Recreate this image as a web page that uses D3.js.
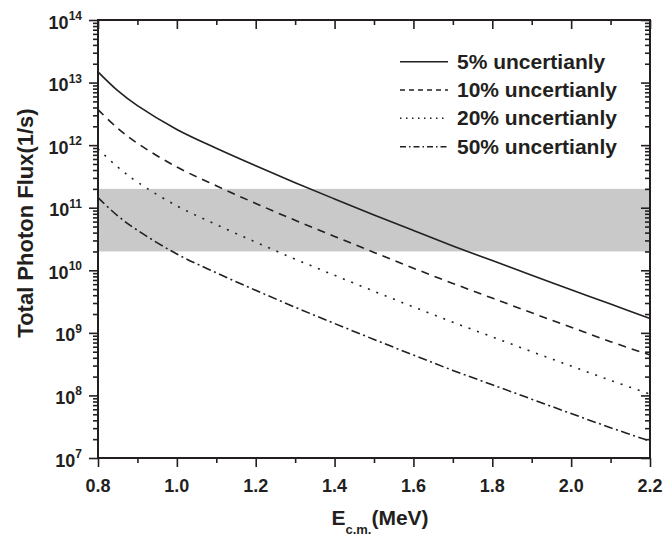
<!DOCTYPE html>
<html><head><meta charset="utf-8">
<script src="https://cdn.jsdelivr.net/npm/d3@7"></script>
<style>
body{margin:0;background:#fff}
svg{display:block}
text{font-family:"Liberation Sans",Arial,sans-serif;font-weight:bold;fill:#231f20}
</style>
</head><body>
<svg id="c" width="666" height="538"></svg>
<script>
// ---- data ----
const energy = [0.8, 0.85, 0.9, 1.0, 1.1, 1.2, 1.3, 1.4, 1.5, 1.6, 1.7, 1.8, 1.9, 2.0, 2.1, 2.2];
const flux5  = [1.48e13, 7.41e12, 4.27e12, 1.78e12, 8.91e11, 4.68e11, 2.51e11, 1.38e11, 7.67e10, 4.32e10, 2.45e10, 1.43e10, 8.32e9, 4.90e9, 2.88e9, 1.70e9];
const flux10 = [3.7e12, 1.86e12, 1.07e12, 4.47e11, 2.24e11, 1.17e11, 6.3e10, 3.47e10, 1.93e10, 1.08e10, 6.17e9, 3.59e9, 2.09e9, 1.23e9, 7.24e8, 4.42e8];
const flux20 = [8.7e11, 4.47e11, 2.57e11, 1.07e11, 5.37e10, 2.82e10, 1.51e10, 8.32e9, 4.62e9, 2.6e9, 1.48e9, 8.61e8, 5.01e8, 2.95e8, 1.74e8, 1.05e8];
const flux50 = [1.45e11, 7.41e10, 4.37e10, 1.82e10, 9.12e9, 4.79e9, 2.57e9, 1.41e9, 7.85e8, 4.42e8, 2.51e8, 1.48e8, 8.71e7, 5.13e7, 3.05e7, 1.86e7];
const seriesNames = ["5% uncertianly", "10% uncertianly", "20% uncertianly", "50% uncertianly"];
const bandRange = [2e10, 2e11];
const xTicks = [0.8, 1.0, 1.2, 1.4, 1.6, 1.8, 2.0, 2.2];
const xMinorTicks = [0.9, 1.1, 1.3, 1.5, 1.7, 1.9, 2.1];
const yExponents = [7, 8, 9, 10, 11, 12, 13, 14];
const xTitle = "E", xTitleSub = "c.m.", xTitleUnit = "(MeV)";
const yTitle = "Total Photon Flux(1/s)";

// ---- styles ----
const curveDash  = [null, "8,6", "2,7", "9,3.5,2,3.5"];
const legendDash = [null, "5,4", "1.5,4.5", "6,3,1.5,3"];
const ink = "#231f20";

const svg = d3.select("#c");
const L = 98, R = 650, T = 20, B = 458;
const x = d3.scaleLinear().domain([0.8, 2.2]).range([L, R]);
const y = d3.scaleLog().domain([1e7, 1e14]).range([B, T]);

// gray band
svg.append("rect")
  .attr("x", x(0.8)).attr("width", x(2.2) - x(0.8))
  .attr("y", y(bandRange[1])).attr("height", y(bandRange[0]) - y(bandRange[1]))
  .attr("fill", "#c9c9ca");

// curves
const allSeries = [flux5, flux10, flux20, flux50];
const line = d3.line().curve(d3.curveCatmullRom.alpha(0.5))
  .x((d, i) => x(energy[i])).y(d => y(d));
allSeries.forEach((s, k) => {
  svg.append("path").datum(s).attr("d", line)
    .attr("fill", "none").attr("stroke", ink).attr("stroke-width", 1.6)
    .attr("stroke-dasharray", curveDash[k]);
});

// y minor ticks
const yMinor = [];
for (let e = 7; e < 14; e++) for (let m = 2; m <= 9; m++) yMinor.push(m * Math.pow(10, e));
const yMajorVals = yExponents.map(e => Math.pow(10, e));

function styleAxis(g) {
  g.select(".domain").remove();
  g.selectAll("line").attr("stroke", ink).attr("stroke-width", 1.6);
}
// left axis (outward)
svg.append("g").attr("transform", `translate(${L},0)`)
  .call(d3.axisLeft(y).tickValues(yMajorVals).tickSize(9).tickFormat(""))
  .call(styleAxis);
svg.append("g").attr("transform", `translate(${L},0)`)
  .call(d3.axisLeft(y).tickValues(yMinor).tickSize(5).tickFormat(""))
  .call(styleAxis);
// right axis (pointing left / inward)
svg.append("g").attr("transform", `translate(${R},0)`)
  .call(d3.axisLeft(y).tickValues(yMajorVals).tickSize(9).tickFormat(""))
  .call(styleAxis);
svg.append("g").attr("transform", `translate(${R},0)`)
  .call(d3.axisLeft(y).tickValues(yMinor).tickSize(5).tickFormat(""))
  .call(styleAxis);
// bottom axis (outward)
svg.append("g").attr("transform", `translate(0,${B})`)
  .call(d3.axisBottom(x).tickValues(xTicks).tickSize(9).tickFormat(""))
  .call(styleAxis);
svg.append("g").attr("transform", `translate(0,${B})`)
  .call(d3.axisBottom(x).tickValues(xMinorTicks).tickSize(5).tickFormat(""))
  .call(styleAxis);
// top axis (pointing down / inward)
svg.append("g").attr("transform", `translate(0,${T})`)
  .call(d3.axisBottom(x).tickValues(xTicks).tickSize(9).tickFormat(""))
  .call(styleAxis);
svg.append("g").attr("transform", `translate(0,${T})`)
  .call(d3.axisBottom(x).tickValues(xMinorTicks).tickSize(5).tickFormat(""))
  .call(styleAxis);

// frame
svg.append("rect").attr("x", L).attr("y", T).attr("width", R - L).attr("height", B - T)
  .attr("fill", "none").attr("stroke", ink).attr("stroke-width", 2);

// x tick labels
svg.selectAll(".xl").data(xTicks).join("text")
  .attr("x", d => x(d)).attr("y", B + 34)
  .attr("text-anchor", "middle").attr("font-size", 18)
  .text(d => d.toFixed(1));

// y tick labels with superscripts
yExponents.forEach(e => {
  const t = svg.append("text").attr("x", 82).attr("y", y(Math.pow(10, e)) + 8.5)
    .attr("text-anchor", "end").attr("font-size", 18);
  t.append("tspan").text("10");
  t.append("tspan").attr("font-size", 12).attr("dy", -8.5).text(e);
});

// axis titles
const xt = svg.append("text").attr("x", 380).attr("y", 525)
  .attr("text-anchor", "middle").attr("font-size", 21);
xt.append("tspan").text(xTitle);
xt.append("tspan").attr("font-size", 13).attr("dy", 9).text(xTitleSub);
xt.append("tspan").attr("dy", -9).text(xTitleUnit);

svg.append("text").attr("transform", "translate(33,223) rotate(-90)")
  .attr("text-anchor", "middle").attr("font-size", 22).text(yTitle);

// legend
const legY = [61.7, 90, 118.3, 146.7];
seriesNames.forEach((n, k) => {
  svg.append("line").attr("x1", 400).attr("x2", 448).attr("y1", legY[k]).attr("y2", legY[k])
    .attr("stroke", ink).attr("stroke-width", 1.6).attr("stroke-dasharray", legendDash[k]);
  svg.append("text").attr("x", 457).attr("y", legY[k] + 7)
    .attr("font-size", 21).text(n);
});
</script>
</body></html>
